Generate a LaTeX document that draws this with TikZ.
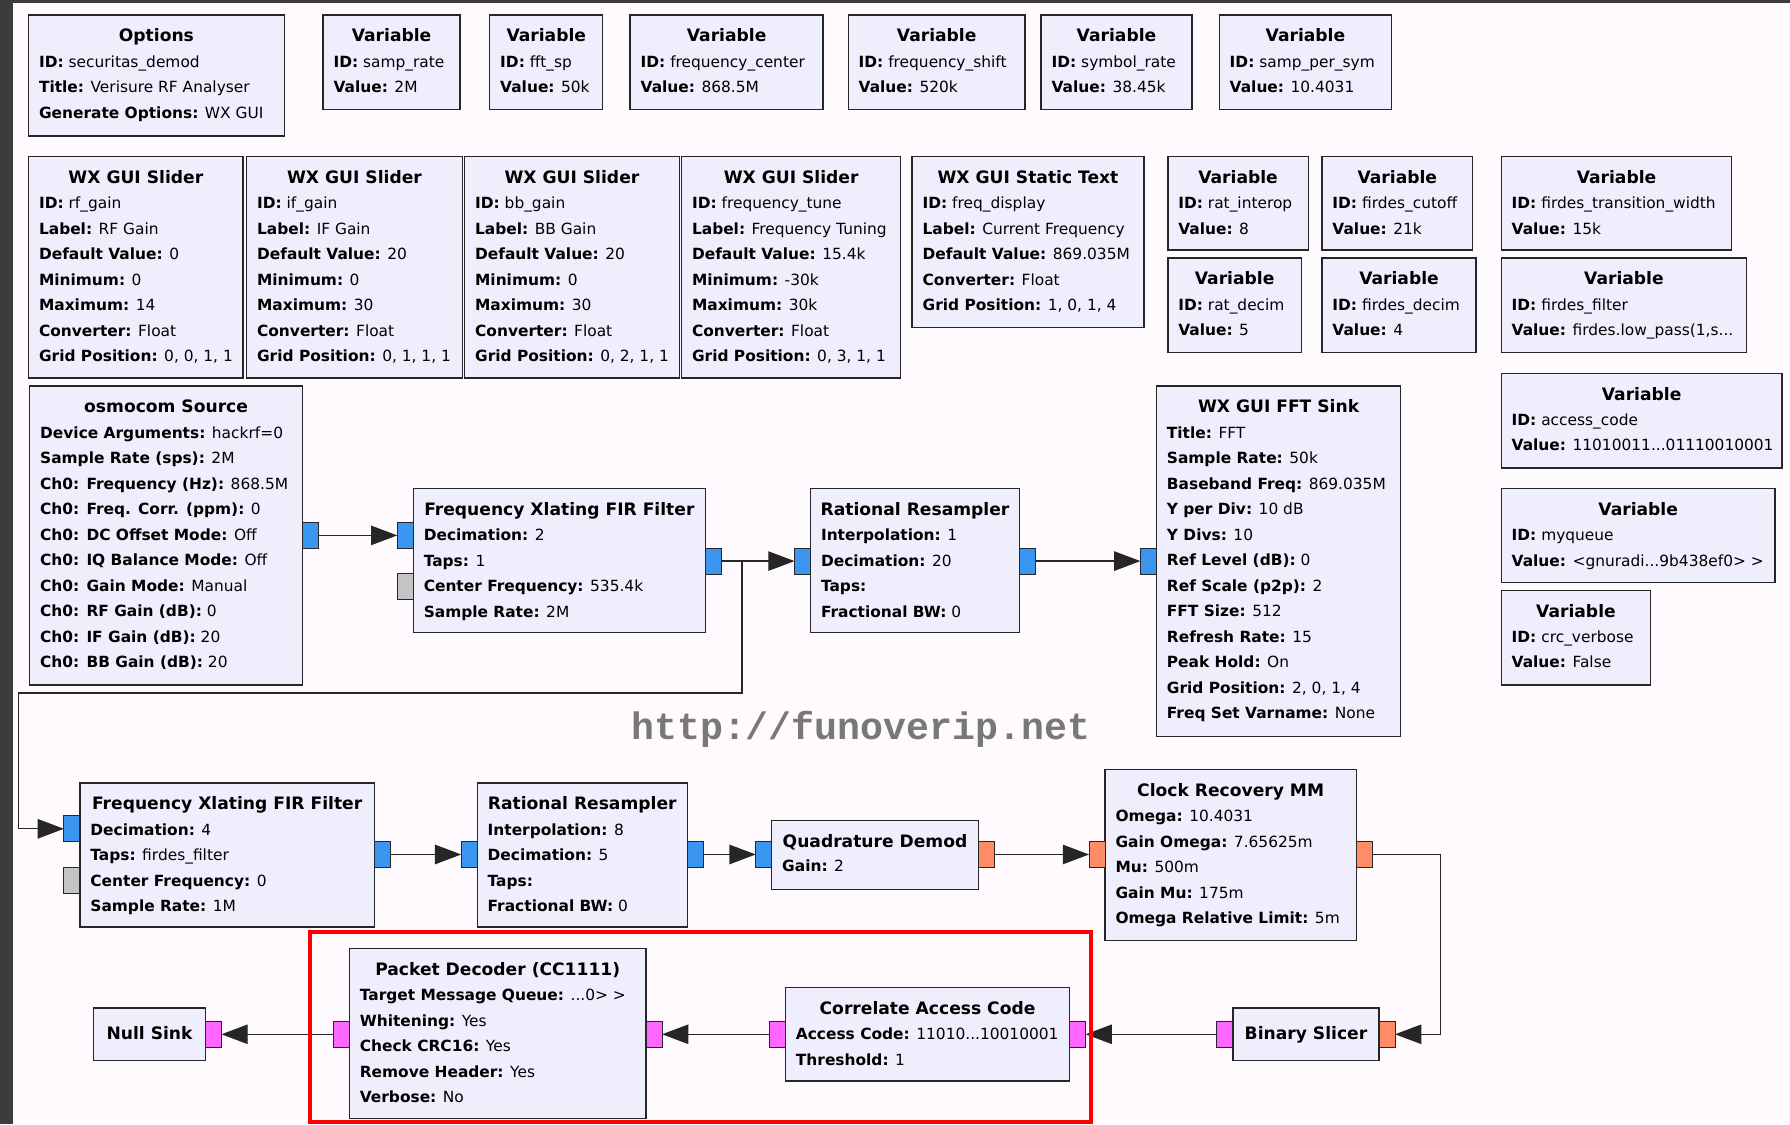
\documentclass[tikz,border=0pt]{standalone}
\usepackage{fontspec}
\setmainfont{DejaVu Sans}
\newfontfamily\wmfont{Liberation Mono}
\usetikzlibrary{arrows.meta}
\definecolor{bgc}{HTML}{FEFAFE}
\definecolor{blkfill}{HTML}{EFEEFD}
\definecolor{pblue}{HTML}{3A96F0}
\definecolor{porange}{HTML}{FF8C66}
\definecolor{pmag}{HTML}{FF66FF}
\definecolor{pgray}{HTML}{C4C4C4}
\definecolor{darkstrip}{HTML}{3C3C3C}
\definecolor{wmgray}{HTML}{787878}
\tikzset{
 blk/.style={draw=black!85, fill=blkfill, line width=1.2pt, inner sep=0pt, outer sep=0pt},
 ttl/.style={font=\fontsize{15}{17}\selectfont\bfseries, inner sep=0pt, anchor=base},
 prm/.style={font=\fontsize{13.5}{22.35}\selectfont, inner sep=0pt, anchor=base west},
 port/.style={draw=black!85, line width=0.8pt, minimum width=14pt, minimum height=23pt, inner sep=0pt, outer sep=0pt, anchor=north west},
 conn/.style={draw=black!85, line width=1.2pt},
 arr/.style={conn, -{Triangle[length=23pt,width=17pt]}},
}
% block: name, x1, y1, x2, y2, title
\newcommand\blk[6]{%
 \node[blk, minimum width={#4pt-#2pt}, minimum height={#5pt-#3pt}] (#1) at ({(#2+#4)/2},{(#3+#5)/2}) {};
 \node[ttl] (#1-t) at ({(#2+#4)/2},{#3+23.5}) {#6};
}
% params: name, x1, y1, lines
\newcommand\prms[4]{%
 \node[prm] (#1-p) at ({#2+9},{#3+45.7}) {\vtop{\baselineskip=22.35pt\lineskiplimit=-50pt\lineskip=0pt #4}};
}
\newcommand\kv[2]{\hbox{\textbf{#1:} #2}}
\newcommand\prt[4]{\node[port, fill=#2] (#1) at (#3,#4) {};}
\begin{document}
\begin{tikzpicture}[x=1pt,y=-1pt]
\useasboundingbox (0,0) rectangle (1568,985);
\fill[bgc] (0,0) rectangle (1568,985);
\fill[darkstrip] (0,0) rectangle (11,985);
\fill[darkstrip] (0,0) rectangle (1568,2.5);

% row 1
\blk{opt}{25}{13}{249}{119}{Options}
\prms{opt}{25}{13}{\kv{ID}{securitas\_demod}\kv{Title}{Verisure RF Analyser}\kv{Generate Options}{WX GUI}}
\blk{v1}{283}{13}{403}{96}{Variable}
\prms{v1}{283}{13}{\kv{ID}{samp\_rate}\kv{Value}{2M}}
\blk{v2}{429}{13}{528}{96}{Variable}
\prms{v2}{429}{13}{\kv{ID}{fft\_sp}\kv{Value}{50k}}
\blk{v3}{552}{13}{721}{96}{Variable}
\prms{v3}{552}{13}{\kv{ID}{frequency\_center}\kv{Value}{868.5M}}
\blk{v4}{743}{13}{898}{96}{Variable}
\prms{v4}{743}{13}{\kv{ID}{frequency\_shift}\kv{Value}{520k}}
\blk{v5}{912}{13}{1044}{96}{Variable}
\prms{v5}{912}{13}{\kv{ID}{symbol\_rate}\kv{Value}{38.45k}}
\blk{v6}{1068}{13}{1219}{96}{Variable}
\prms{v6}{1068}{13}{\kv{ID}{samp\_per\_sym}\kv{Value}{10.4031}}

% row 2
\blk{s1}{25}{137}{213}{331}{WX GUI Slider}
\prms{s1}{25}{137}{\kv{ID}{rf\_gain}\kv{Label}{RF Gain}\kv{Default Value}{0}\kv{Minimum}{0}\kv{Maximum}{14}\kv{Converter}{Float}\kv{Grid Position}{0, 0, 1, 1}}
\blk{s2}{216}{137}{405}{331}{WX GUI Slider}
\prms{s2}{216}{137}{\kv{ID}{if\_gain}\kv{Label}{IF Gain}\kv{Default Value}{20}\kv{Minimum}{0}\kv{Maximum}{30}\kv{Converter}{Float}\kv{Grid Position}{0, 1, 1, 1}}
\blk{s3}{407}{137}{595}{331}{WX GUI Slider}
\prms{s3}{407}{137}{\kv{ID}{bb\_gain}\kv{Label}{BB Gain}\kv{Default Value}{20}\kv{Minimum}{0}\kv{Maximum}{30}\kv{Converter}{Float}\kv{Grid Position}{0, 2, 1, 1}}
\blk{s4}{597}{137}{789}{331}{WX GUI Slider}
\prms{s4}{597}{137}{\kv{ID}{frequency\_tune}\kv{Label}{Frequency Tuning}\kv{Default Value}{15.4k}\kv{Minimum}{-30k}\kv{Maximum}{30k}\kv{Converter}{Float}\kv{Grid Position}{0, 3, 1, 1}}
\blk{st}{799}{137}{1002}{287}{WX GUI Static Text}
\prms{st}{799}{137}{\kv{ID}{freq\_display}\kv{Label}{Current Frequency}\kv{Default Value}{869.035M}\kv{Converter}{Float}\kv{Grid Position}{1, 0, 1, 4}}
\blk{v7}{1023}{137}{1146}{219}{Variable}
\prms{v7}{1023}{137}{\kv{ID}{rat\_interop}\kv{Value}{8}}
\blk{v8}{1158}{137}{1290}{219}{Variable}
\prms{v8}{1158}{137}{\kv{ID}{firdes\_cutoff}\kv{Value}{21k}}
\blk{v9}{1315}{137}{1517}{219}{Variable}
\prms{v9}{1315}{137}{\kv{ID}{firdes\_transition\_width}\kv{Value}{15k}}
\blk{v10}{1023}{226}{1140}{309}{Variable}
\prms{v10}{1023}{226}{\kv{ID}{rat\_decim}\kv{Value}{5}}
\blk{v11}{1158}{226}{1293}{309}{Variable}
\prms{v11}{1158}{226}{\kv{ID}{firdes\_decim}\kv{Value}{4}}
\blk{v12}{1315}{226}{1530}{309}{Variable}
\prms{v12}{1315}{226}{\kv{ID}{firdes\_filter}\kv{Value}{firdes.low\_pass(1,s...}}

% row 3
\blk{osm}{26}{338}{265}{600}{osmocom Source}
\prms{osm}{26}{338}{\kv{Device Arguments}{hackrf=0}\kv{Sample Rate (sps)}{2M}\kv{Ch0: Frequency (Hz)}{868.5M}\kv{Ch0: Freq. Corr. (ppm)}{0}\kv{Ch0: DC Offset Mode}{Off}\kv{Ch0: IQ Balance Mode}{Off}\kv{Ch0: Gain Mode}{Manual}\kv{Ch0: RF Gain (dB)}{0}\kv{Ch0: IF Gain (dB)}{20}\kv{Ch0: BB Gain (dB)}{20}}
\blk{xl1}{362}{428}{618}{554}{Frequency Xlating FIR Filter}
\prms{xl1}{362}{428}{\kv{Decimation}{2}\kv{Taps}{1}\kv{Center Frequency}{535.4k}\kv{Sample Rate}{2M}}
\blk{rr1}{710}{428}{893}{554}{Rational Resampler}
\prms{rr1}{710}{428}{\kv{Interpolation}{1}\kv{Decimation}{20}\kv{Taps}{}\kv{Fractional BW}{0}}
\blk{fft}{1013}{338}{1227}{645}{WX GUI FFT Sink}
\prms{fft}{1013}{338}{\kv{Title}{FFT}\kv{Sample Rate}{50k}\kv{Baseband Freq}{869.035M}\kv{Y per Div}{10 dB}\kv{Y Divs}{10}\kv{Ref Level (dB)}{0}\kv{Ref Scale (p2p)}{2}\kv{FFT Size}{512}\kv{Refresh Rate}{15}\kv{Peak Hold}{On}\kv{Grid Position}{2, 0, 1, 4}\kv{Freq Set Varname}{None}}
\blk{v13}{1315}{327}{1561}{410}{Variable}
\prms{v13}{1315}{327}{\kv{ID}{access\_code}\kv{Value}{11010011...01110010001}}
\blk{v14}{1315}{428}{1555}{510}{Variable}
\prms{v14}{1315}{428}{\kv{ID}{myqueue}\kv{Value}{<gnuradi...9b438ef0> >}}
\blk{v15}{1315}{517}{1446}{600}{Variable}
\prms{v15}{1315}{517}{\kv{ID}{crc\_verbose}\kv{Value}{False}}

% row 4
\blk{xl2}{70}{686}{328}{812}{Frequency Xlating FIR Filter}
\prms{xl2}{70}{686}{\kv{Decimation}{4}\kv{Taps}{firdes\_filter}\kv{Center Frequency}{0}\kv{Sample Rate}{1M}}
\blk{rr2}{418}{686}{602}{812}{Rational Resampler}
\prms{rr2}{418}{686}{\kv{Interpolation}{8}\kv{Decimation}{5}\kv{Taps}{}\kv{Fractional BW}{0}}
\blk{qd}{676}{719}{857}{779}{Quadrature Demod}
\prms{qd}{676}{718}{\kv{Gain}{2}}
\blk{cr}{968}{674}{1188}{824}{Clock Recovery MM}
\prms{cr}{968}{674}{\kv{Omega}{10.4031}\kv{Gain Omega}{7.65625m}\kv{Mu}{500m}\kv{Gain Mu}{175m}\kv{Omega Relative Limit}{5m}}

% row 5
\node[blk, minimum width=98pt, minimum height=46pt] (ns) at (131,906) {};
\node[ttl] (ns-t) at (131,911) {Null Sink};
\blk{pd}{306}{831}{566}{980}{Packet Decoder (CC1111)}
\prms{pd}{306}{831}{\kv{Target Message Queue}{...0> >}\kv{Whitening}{Yes}\kv{Check CRC16}{Yes}\kv{Remove Header}{Yes}\kv{Verbose}{No}}
\blk{cac}{688}{865}{937}{947}{Correlate Access Code}
\prms{cac}{688}{865}{\kv{Access Code}{11010...10010001}\kv{Threshold}{1}}
\node[blk, minimum width=128pt, minimum height=46pt] (bs) at (1144,906) {};
\node[ttl] (bs-t) at (1144,911) {Binary Slicer};

% ports
\prt{osm-o}{pblue}{265}{457.5}
\prt{xl1-i}{pblue}{348}{457.5}
\prt{xl1-g}{pgray}{348}{502.5}
\prt{xl1-o}{pblue}{618}{480}
\prt{rr1-i}{pblue}{696}{480}
\prt{rr1-o}{pblue}{893}{480}
\prt{fft-i}{pblue}{999}{480}
\prt{xl2-i}{pblue}{56}{714.5}
\prt{xl2-g}{pgray}{56}{760}
\prt{xl2-o}{pblue}{328}{737}
\prt{rr2-i}{pblue}{404}{737}
\prt{rr2-o}{pblue}{602}{737}
\prt{qd-i}{pblue}{662}{737}
\prt{qd-o}{porange}{857}{737}
\prt{cr-i}{porange}{954}{737}
\prt{cr-o}{porange}{1188}{737}
\prt{ns-i}{pmag}{180}{894.5}
\prt{pd-o}{pmag}{292}{894.5}
\prt{pd-i}{pmag}{566}{894.5}
\prt{cac-o}{pmag}{674}{894.5}
\prt{cac-i}{pmag}{937}{894.5}
\prt{bs-o}{pmag}{1066}{894.5}
\prt{bs-i}{porange}{1208}{894.5}

% connections
\coordinate (b1) at (650,607);
\coordinate (b2) at (16,607);
\draw[arr] (osm-o.east) -- (xl1-i.west);
\draw[arr] (xl1-o.east) -- (rr1-i.west);
\draw[arr] (xl1-o.east) -| (b1) -- (b2) |- (xl2-i.west);
\draw[arr] (rr1-o.east) -- (fft-i.west);
\draw[arr] (xl2-o.east) -- (rr2-i.west);
\draw[arr] (rr2-o.east) -- (qd-i.west);
\draw[arr] (qd-o.east) -- (cr-i.west);
\draw[arr] (cr-o.east) -- ++(60,0) |- (bs-i.east);
\draw[arr] (bs-o.west) -- (cac-i.east);
\draw[arr] (cac-o.west) -- (pd-i.east);
\draw[arr] (pd-o.west) -- (ns-i.east);

% watermark
\node[font=\wmfont\bfseries\fontsize{33.5}{40}\selectfont, text=wmgray, inner sep=0pt] (wm) at (754,639) {http://funoverip.net};

% highlight
\draw[red, line width=3.5pt] (271.5,816.5) rectangle (955.5,982.5);
\end{tikzpicture}
\end{document}
